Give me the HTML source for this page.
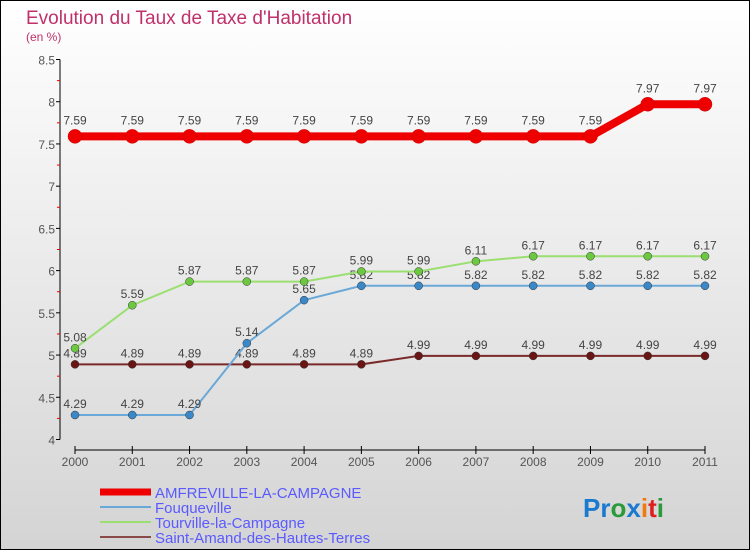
<!DOCTYPE html>
<html><head><meta charset="utf-8"><style>
body{margin:0}
#c{position:relative;width:748px;height:548px;border:1px solid #000;background:linear-gradient(#fff,#d4d4d4);overflow:hidden;font-family:"Liberation Sans",sans-serif}
svg{position:absolute;left:-1px;top:-1px}
</style></head><body>
<div id="c">
<svg id="s" width="750" height="550">
<text x="26" y="24" font-size="19" fill="#c0306a">Evolution du Taux de Taxe d'Habitation</text>
<text x="26" y="41" font-size="12" fill="#c0306a">(en %)</text>
<g font-weight="bold"><text x="583" y="517" font-size="26"><tspan fill="#1a7ad0">Pr</tspan><tspan fill="#2a9a3a">o</tspan><tspan fill="#1a7ad0">x</tspan><tspan fill="#f07a10">i</tspan><tspan fill="#e02020">t</tspan><tspan fill="#2a9a3a">i</tspan></text></g>
</svg>
</div>
<script>
const years=[2000,2001,2002,2003,2004,2005,2006,2007,2008,2009,2010,2011];
const amfreville=[7.59,7.59,7.59,7.59,7.59,7.59,7.59,7.59,7.59,7.59,7.97,7.97];
const fouqueville=[4.29,4.29,4.29,5.14,5.65,5.82,5.82,5.82,5.82,5.82,5.82,5.82];
const tourville=[5.08,5.59,5.87,5.87,5.87,5.99,5.99,6.11,6.17,6.17,6.17,6.17];
const saintAmand=[4.89,4.89,4.89,4.89,4.89,4.89,4.99,4.99,4.99,4.99,4.99,4.99];
const yTicks=[4,4.5,5,5.5,6,6.5,7,7.5,8,8.5];
const NS="http://www.w3.org/2000/svg",svg=document.getElementById('s');
const X=i=>75+i*(630/11), Y=v=>439.5-(v-4)*(380/4.5);
function el(t,a,p){const e=document.createElementNS(NS,t);for(const k in a)e.setAttribute(k,a[k]);(p||svg).appendChild(e);return e;}
let ax=el('line',{x1:60,y1:Y(8.5),x2:60,y2:Y(4),stroke:'#000'});


yTicks.forEach((v,i)=>{el('line',{x1:56,x2:60,y1:Y(v),y2:Y(v),stroke:'#000'});
 if(i<yTicks.length-1)el('line',{x1:57,x2:60,y1:Y(v+0.25),y2:Y(v+0.25),stroke:'#e00'});
 const t=el('text',{x:55,y:Y(v)+5,'font-size':12,fill:'#555','text-anchor':'end'});t.textContent=v;
 
 });
let xa=el('line',{x1:75,y1:450,x2:705,y2:450,stroke:'#000'});


years.forEach((y,i)=>{el('line',{x1:X(i),x2:X(i),y1:446,y2:454,stroke:'#000'});
 const t=el('text',{x:X(i),y:466,'font-size':12,fill:'#555','text-anchor':'middle'});t.textContent=y;
 
 });
const series=[[saintAmand,'#7a2a2a','#6a1515',2,4,'saint-amand'],[fouqueville,'#6aa8d8','#3a88c8',2,4,'fouqueville'],[tourville,'#9adf70','#6cc840',2,4,'tourville'],[amfreville,'#e00','#e00',8,7,'amfreville']];
series.forEach(([d,c,m,w,r,n])=>{
 const p=el('polyline',{points:d.map((v,i)=>X(i)+','+Y(v)).join(' '),fill:'none',stroke:c,'stroke-width':w});
 
 
 d.forEach((v,i)=>{const ci=el('circle',{cx:X(i),cy:Y(v),r:r,fill:m,stroke:n=='amfreville'?'#c00':'#333','stroke-width':0.5});
  
  
  const t=el('text',{x:X(i),y:Y(v)-(n=='amfreville'?12:7),'font-size':12,fill:'#444','text-anchor':'middle'});t.textContent=v;
  
  });
});
const leg=[['AMFREVILLE-LA-CAMPAGNE','#e00',7],['Fouqueville','#6aa8d8',2],['Tourville-la-Campagne','#9adf70',2],['Saint-Amand-des-Hautes-Terres','#8a4a4a',2]];
leg.forEach(([n,c,w],i)=>{const y=492+i*15;
 const l=el('line',{x1:100,x2:151,y1:y,y2:y,stroke:c,'stroke-width':w});
 
 
 const t=el('text',{x:155,y:y+6,'font-size':15,fill:'#5a5aff'});t.textContent=n;
 
 });
</script>
</body></html>
